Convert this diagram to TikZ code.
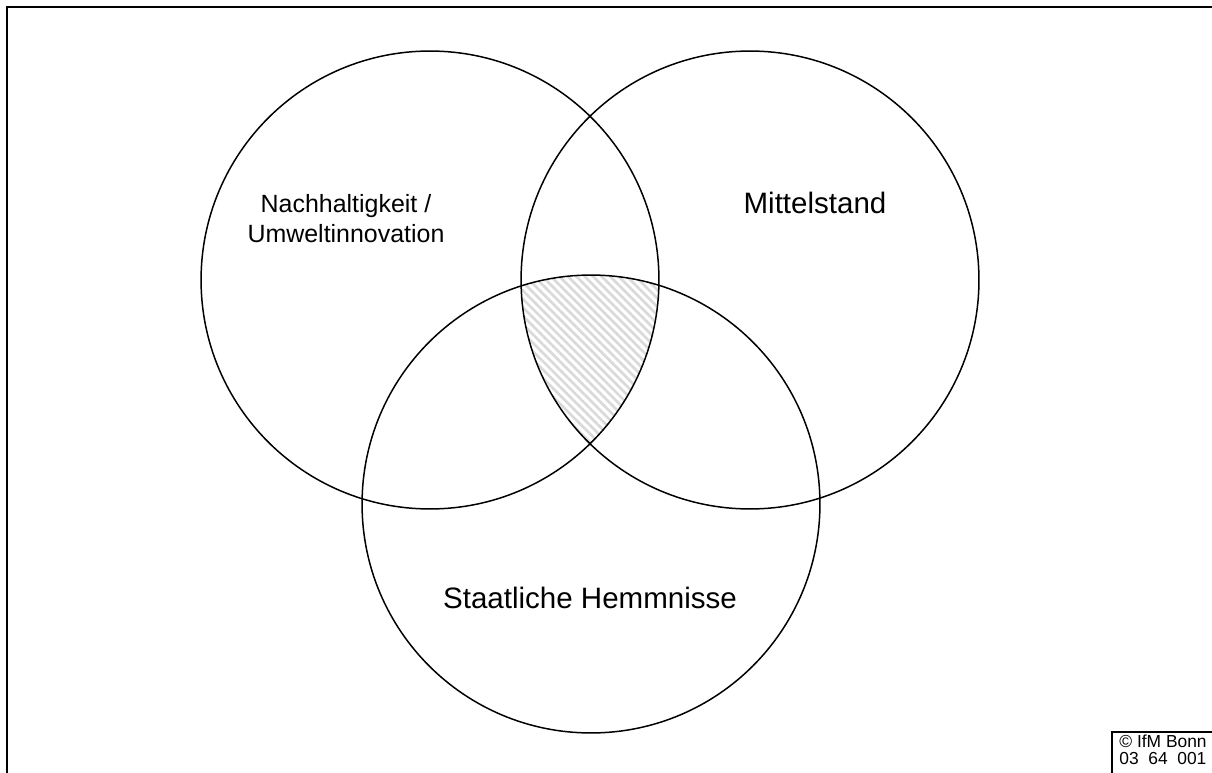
\documentclass[tikz,border=0pt]{standalone}
\usepackage{fontspec}
\setmainfont{Liberation Sans}
\usetikzlibrary{patterns.meta}

\begin{document}
\begin{tikzpicture}[x=0.02cm,y=-0.02cm]
                \tikzstyle{every node}=[font=\fontsize{16.8}{17}\selectfont, align=center]
                \tikzstyle{kreis}=[draw, circle, line width=0.85pt, inner sep=0pt, minimum size=9.16cm]
                \tikzstyle{rahmen}=[line width=1.2pt]
                \useasboundingbox (0,0) rectangle (1212,773);

                \draw[rahmen] (1212,7) -- (7,7) -- (7,773);

                \coordinate (m1) at (430,280);
                \coordinate (m2) at (750,280);
                \coordinate (m3) at (591,504);

                \begin{scope}
                \clip (m1) circle (4.58cm);
                \clip (m2) circle (4.58cm);
                \fill[pattern={Lines[angle=-45,distance=3.4pt,line width=1.5pt]}, pattern color=gray!30] (m3) circle (4.58cm);
                \end{scope}

                \node[kreis] (nach) at (m1) {};
                \node[kreis] (mittel) at (m2) {};
                \node[kreis] (staat) at (m3) {};

                \node[font=\fontsize{14.2}{17}\selectfont] (nachtext) at (346,219) {Nachhaltigkeit /\\Umweltinnovation};
                \node (mitteltext) at (815,203) {Mittelstand};
                \node (staattext) at (590,598) {Staatliche Hemmnisse};

                \draw[line width=1pt] (1112,773) -- (1112,732) -- (1212,732);
                \node[anchor=north west, align=left, inner sep=0pt, font=\fontsize{9.9}{9.2}\selectfont] (ifm) at (1119,735) {\copyright{} IfM Bonn\\03\ \ 64\ \ 001};
            \end{tikzpicture}
\end{document}
